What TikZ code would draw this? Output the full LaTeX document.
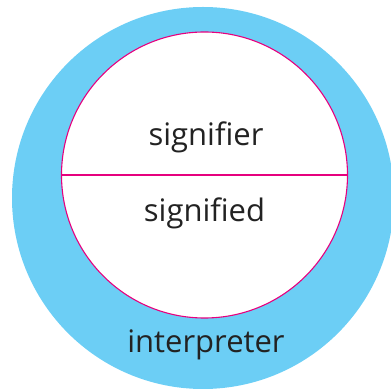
\documentclass[tikz,border=0pt]{standalone}
\usepackage{fontspec}
\setmainfont{Open Sans}
\definecolor{skyblue}{RGB}{108,206,245}
\definecolor{magline}{RGB}{230,0,126}
\definecolor{txt}{RGB}{34,34,34}
\begin{document}
\begin{tikzpicture}[x=1pt,y=1pt,
  lbl/.style={font=\fontsize{31}{31}\selectfont, text=txt, inner sep=0pt, anchor=base}]
\useasboundingbox (0,0) rectangle (391,390);
\begin{scope}
\clip (0,0) rectangle (391,390);
\fill[skyblue] (203,192) circle (191);
\end{scope}
\node[circle, fill=white, draw=magline, line width=1.1pt, minimum size=286pt, inner sep=0pt] (inner) at (204.5,215) {};
\draw[magline, line width=1.1pt] (inner.west) -- (inner.east);
\node[lbl] (signifier) at (206,244) {signifier};
\node[lbl] (signified) at (204.5,168) {signified};
\node[lbl] (interp) at (206,37) {interpreter};
\end{tikzpicture}
\end{document}
